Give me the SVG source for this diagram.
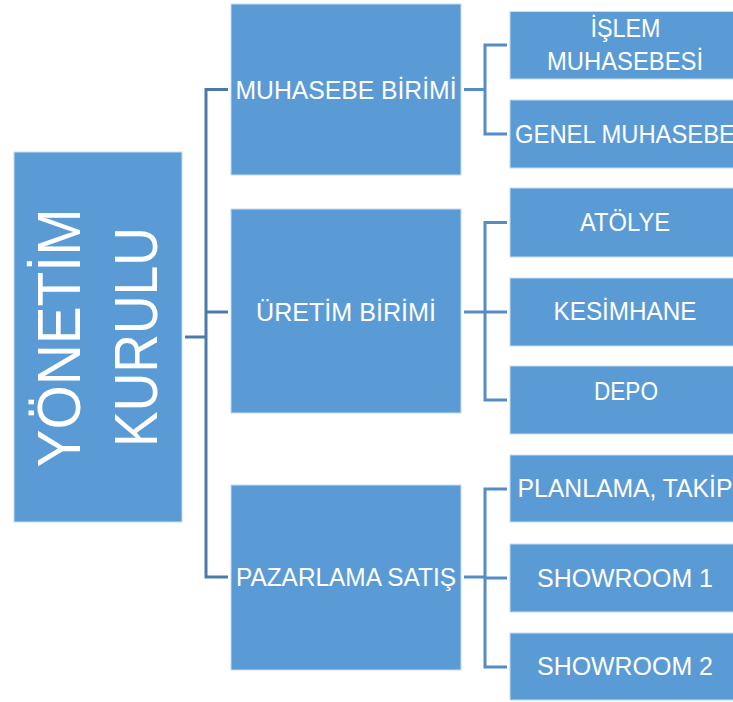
<svg xmlns="http://www.w3.org/2000/svg" width="733" height="702" viewBox="0 0 733 702">
<style>
.box{fill:#5b9bd5;stroke:#c6dbf0;stroke-width:1}
.t{fill:#ffffff;font-family:"Liberation Sans",Arial,sans-serif;font-size:26px;text-anchor:middle}
.big{font-size:61px}
.c1{fill:none;stroke:#4a7aab;stroke-width:3}
.c2{fill:none;stroke:#548cc6;stroke-width:3}
</style>
<rect width="733" height="702" fill="#ffffff"/>
<g id="connectors">
<path class="c1" d="M185,337 H206"/>
<path class="c1" d="M228,89.5 H206 V577 H228"/>
<path class="c1" d="M206,312 H228"/>
<path class="c2" d="M464,89.5 H485"/>
<path class="c2" d="M507,45 H485 V134 H507"/>
<path class="c2" d="M464,312 H485"/>
<path class="c2" d="M507,222.5 H485 V400 H507"/>
<path class="c2" d="M485,312 H507"/>
<path class="c2" d="M464,577 H485"/>
<path class="c2" d="M507,489 H485 V667 H507"/>
<path class="c2" d="M485,578 H507"/>
</g>
<g id="yonetim">
<rect class="box" x="14" y="152" width="168" height="370"/>
<text class="t big" x="80" y="338" transform="rotate(-90 80 338)" textLength="259" lengthAdjust="spacingAndGlyphs">YÖNETİM</text>
<text class="t big" x="157" y="337" transform="rotate(-90 157 337)" textLength="220" lengthAdjust="spacingAndGlyphs">KURULU</text>
</g>
<g id="muhasebe">
<rect class="box" x="231" y="4" width="230" height="171"/>
<text class="t" x="346" y="98.5" textLength="221" lengthAdjust="spacingAndGlyphs">MUHASEBE BİRİMİ</text>
</g>
<g id="uretim">
<rect class="box" x="231" y="209" width="230" height="204"/>
<text class="t" x="346" y="320.5" textLength="180" lengthAdjust="spacingAndGlyphs">ÜRETİM BİRİMİ</text>
</g>
<g id="pazarlama">
<rect class="box" x="231" y="485" width="230" height="185"/>
<text class="t" x="346" y="586" textLength="220" lengthAdjust="spacingAndGlyphs">PAZARLAMA SATIŞ</text>
</g>
<g id="islem">
<rect class="box" x="510" y="11.5" width="230" height="67.5"/>
<text class="t" x="625.5" y="37.3" textLength="70" lengthAdjust="spacingAndGlyphs">İŞLEM</text>
<text class="t" x="625" y="70" textLength="156" lengthAdjust="spacingAndGlyphs">MUHASEBESİ</text>
</g>
<g id="genel">
<rect class="box" x="510" y="100" width="230" height="68"/>
<text class="t" x="625" y="143.3" textLength="220" lengthAdjust="spacingAndGlyphs">GENEL MUHASEBE</text>
</g>
<g id="atolye">
<rect class="box" x="510" y="188" width="230" height="69"/>
<text class="t" x="625" y="231" textLength="90" lengthAdjust="spacingAndGlyphs">ATÖLYE</text>
</g>
<g id="kesimhane">
<rect class="box" x="510" y="278" width="230" height="68"/>
<text class="t" x="625" y="320" textLength="143" lengthAdjust="spacingAndGlyphs">KESİMHANE</text>
</g>
<g id="depo">
<rect class="box" x="510" y="366" width="230" height="68"/>
<text class="t" x="626" y="400" textLength="64" lengthAdjust="spacingAndGlyphs">DEPO</text>
</g>
<g id="planlama">
<rect class="box" x="510" y="455" width="230" height="67"/>
<text class="t" x="625" y="497" textLength="215" lengthAdjust="spacingAndGlyphs">PLANLAMA, TAKİP</text>
</g>
<g id="showroom1">
<rect class="box" x="510" y="544" width="230" height="68"/>
<text class="t" x="625" y="586.7" textLength="176" lengthAdjust="spacingAndGlyphs">SHOWROOM 1</text>
</g>
<g id="showroom2">
<rect class="box" x="510" y="633" width="230" height="67"/>
<text class="t" x="625" y="675" textLength="176" lengthAdjust="spacingAndGlyphs">SHOWROOM 2</text>
</g>
</svg>
